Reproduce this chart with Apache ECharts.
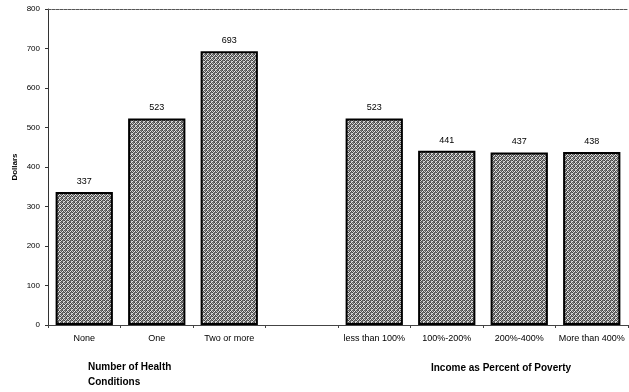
<!DOCTYPE html>
<html>
<head>
<meta charset="utf-8">
<script src="https://cdn.jsdelivr.net/npm/echarts@6/dist/echarts.min.js"></script>
<style>
html, body { margin: 0; padding: 0; background: #fff; }
#chart { width: 629px; height: 392px; }
</style>
</head>
<body>
<div id="chart"></div>
<script>
// Average annual spending by group; the empty slot separates the two groups
const categories = ['None', 'One', 'Two or more', '', 'less than 100%', '100%-200%', '200%-400%', 'More than 400%'];
const dollars = [337, 523, 693, null, 523, 441, 437, 438];
const yTicks = [0, 100, 200, 300, 400, 500, 600, 700, 800];
const groupTitles = ['Number of Health\nConditions', 'Income as Percent of Poverty'];

// Small repeating tile giving the bars their speckled gray fill
function makeTexture() {
  const tile = [
    '#3e3e3e', '#d6d6d6', '#5c5c5c', '#707070',
    '#e2e2e2', '#525252', '#6a6a6a', '#c8c8c8',
    '#606060', '#7a7a7a', '#444444', '#dadada',
    '#cccccc', '#585858', '#e6e6e6', '#4c4c4c'
  ];
  const c = document.createElement('canvas');
  c.width = 4; c.height = 4;
  const ctx = c.getContext('2d');
  tile.forEach(function (col, i) {
    ctx.fillStyle = col;
    ctx.fillRect(i % 4, Math.floor(i / 4), 1, 1);
  });
  return c;
}

const chart = echarts.init(document.getElementById('chart'), null, { renderer: 'canvas' });
const font = 'Liberation Sans, Arial, sans-serif';

chart.setOption({
  animation: false,
  backgroundColor: '#fff',
  grid: { left: 48, right: 1, top: 9, bottom: 67 },
  title: [
    {
      text: groupTitles[0], left: 83, top: 355,
      textStyle: { fontFamily: font, fontSize: 10, fontWeight: 'bold', color: '#000', lineHeight: 15 }
    },
    {
      text: groupTitles[1], left: 496, top: 358, textAlign: 'center',
      textStyle: { fontFamily: font, fontSize: 10, fontWeight: 'bold', color: '#000' }
    }
  ],
  xAxis: [
    {
      type: 'category',
      data: categories,
      axisLine: { lineStyle: { color: '#444', width: 1 } },
      axisTick: { show: true, alignWithLabel: false, length: 3, lineStyle: { color: '#444' } },
      axisLabel: { fontFamily: font, fontSize: 9, color: '#000', margin: 9, interval: 0 }
    },
    {
      type: 'category',
      data: categories,
      position: 'top',
      axisLine: { lineStyle: { color: '#555', width: 1, type: [3, 1] } },
      axisTick: { show: false },
      axisLabel: { show: false }
    }
  ],
  yAxis: {
    type: 'value',
    min: yTicks[0],
    max: yTicks[yTicks.length - 1],
    interval: 100,
    name: 'Dollars',
    nameLocation: 'middle',
    nameRotate: 90,
    nameGap: 29,
    nameMoveOverlap: false,
    nameTextStyle: { fontFamily: font, fontSize: 8, fontWeight: 'bold', color: '#000' },
    axisLine: { show: true, lineStyle: { color: '#333', width: 1 } },
    axisTick: { show: true, length: 3, lineStyle: { color: '#333' } },
    axisLabel: { fontFamily: font, fontSize: 8, color: '#000', margin: 8 },
    splitLine: { show: false }
  },
  series: [{
    type: 'bar',
    data: dollars,
    barWidth: '79%',
    itemStyle: {
      color: { image: makeTexture(), repeat: 'repeat' },
      borderColor: '#000',
      borderWidth: 2
    },
    label: {
      show: true,
      position: 'top',
      distance: 6,
      fontFamily: font,
      fontSize: 9,
      color: '#000'
    }
  }]
});
</script>
</body>
</html>
